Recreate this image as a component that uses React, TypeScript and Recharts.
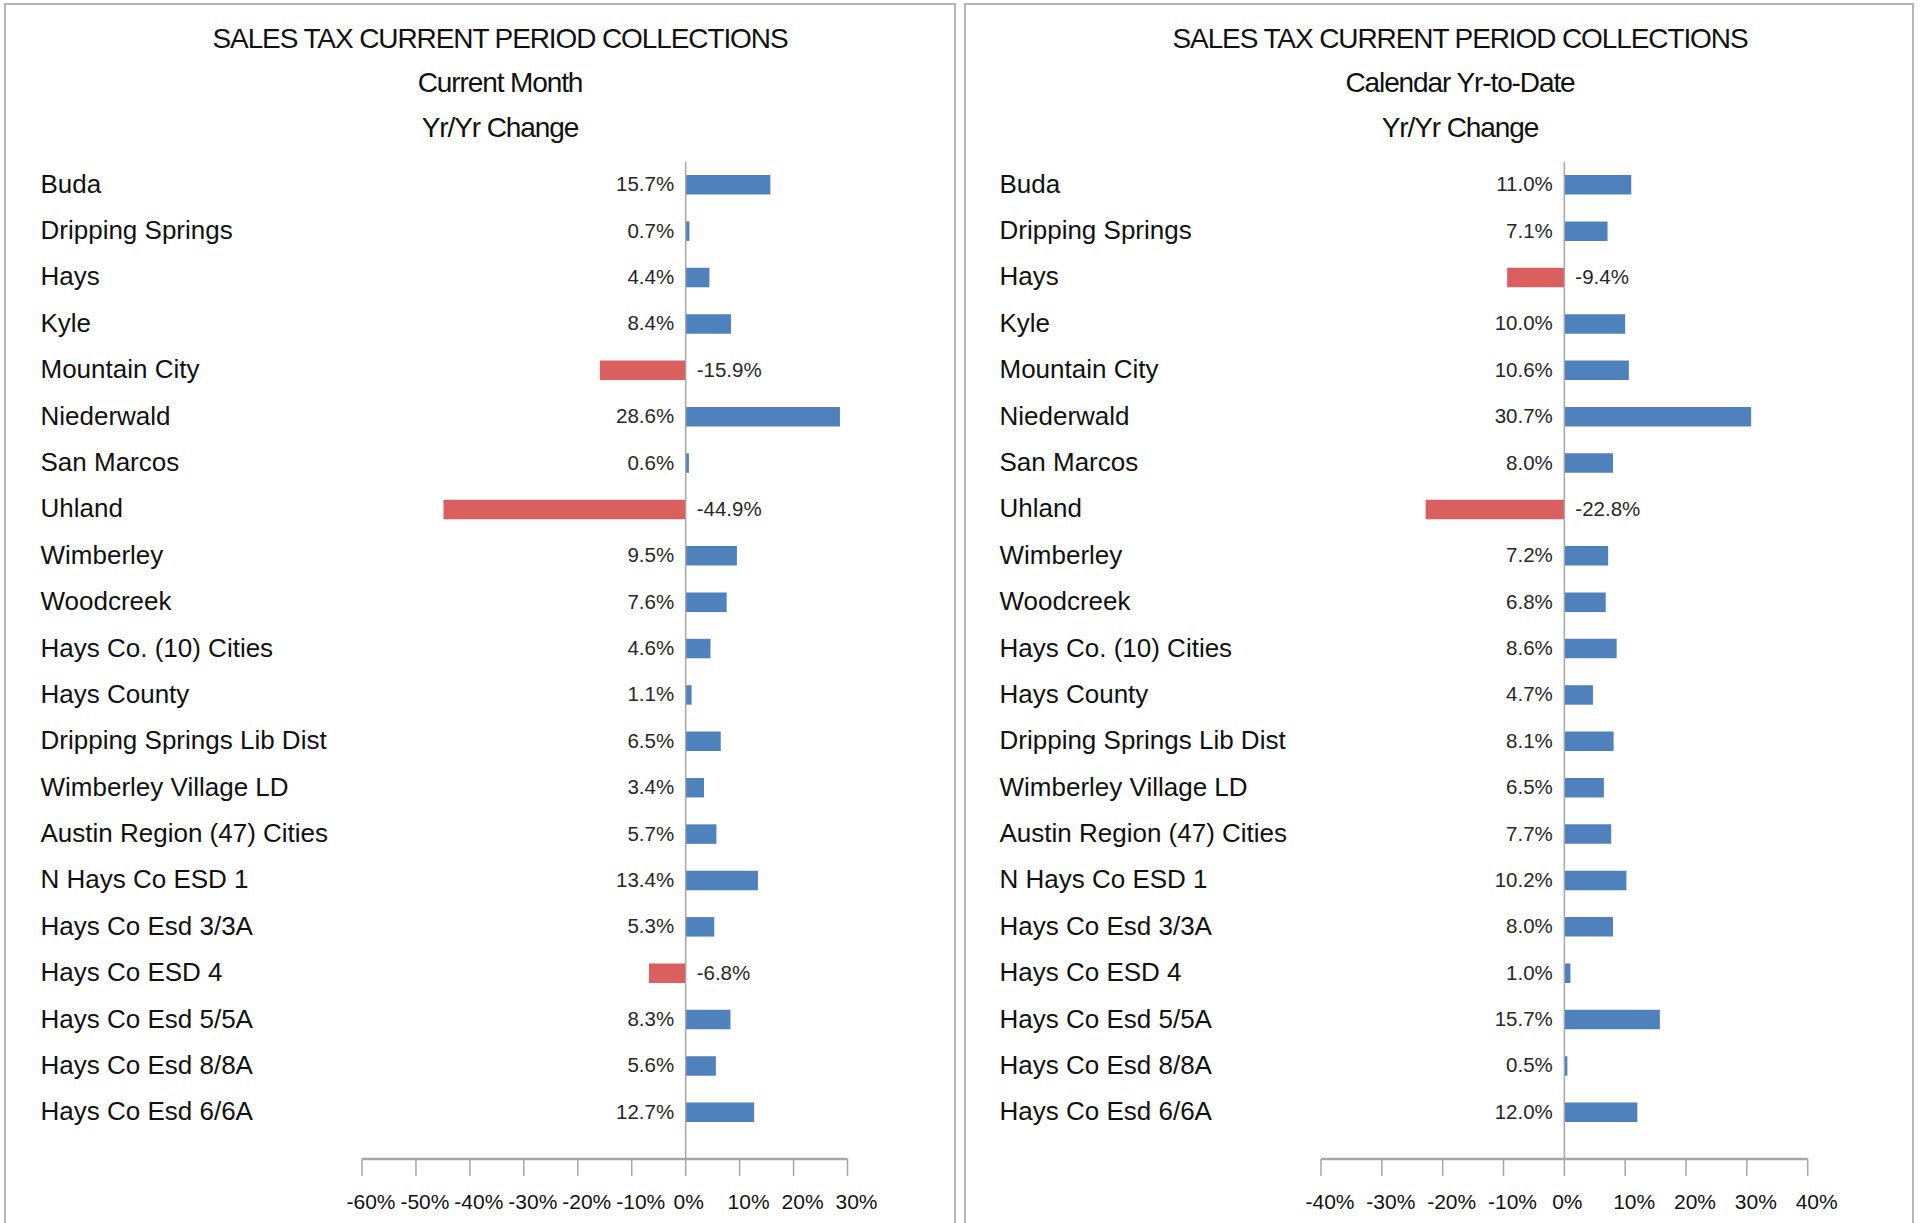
import React from 'react';
import { BarChart, Bar, XAxis, YAxis, Cell, LabelList, ReferenceLine } from 'recharts';

const categories = [
  'Buda',
  'Dripping Springs',
  'Hays',
  'Kyle',
  'Mountain City',
  'Niederwald',
  'San Marcos',
  'Uhland',
  'Wimberley',
  'Woodcreek',
  'Hays Co. (10) Cities',
  'Hays County',
  'Dripping Springs Lib Dist',
  'Wimberley Village LD',
  'Austin Region (47) Cities',
  'N Hays Co ESD 1',
  'Hays Co Esd 3/3A',
  'Hays Co ESD 4',
  'Hays Co Esd 5/5A',
  'Hays Co Esd 8/8A',
  'Hays Co Esd 6/6A',
];

const currentMonthChange = [15.7, 0.7, 4.4, 8.4, -15.9, 28.6, 0.6, -44.9, 9.5, 7.6, 4.6, 1.1, 6.5, 3.4, 5.7, 13.4, 5.3, -6.8, 8.3, 5.6, 12.7];
const yearToDateChange = [11.0, 7.1, -9.4, 10.0, 10.6, 30.7, 8.0, -22.8, 7.2, 6.8, 8.6, 4.7, 8.1, 6.5, 7.7, 10.2, 8.0, 1.0, 15.7, 0.5, 12.0];

const leftTicks = [-60, -50, -40, -30, -20, -10, 0, 10, 20, 30];
const rightTicks = [-40, -30, -20, -10, 0, 10, 20, 30, 40];

const titleLine = 'SALES TAX CURRENT PERIOD COLLECTIONS';
const leftSubtitle = 'Current Month';
const rightSubtitle = 'Calendar Yr-to-Date';
const changeLine = 'Yr/Yr Change';

const FONT = '"Liberation Sans", Arial, Helvetica, sans-serif';
const BLUE = '#4F81BD';
const RED = '#D9605F';
const GRAY = '#A6A6A6';

function makeRows(values: number[]) {
  return categories.map((name, i) => ({ name, value: values[i] }));
}

function ValueLabel(props: any) {
  const vb = props.viewBox || {};
  const x = Number(props.x ?? vb.x) || 0;
  const y = Number(props.y ?? vb.y) || 0;
  const w = Number(props.width ?? vb.width) || 0;
  const h = Number(props.height ?? vb.height) || 0;
  const v = Number(props.value);
  const pos = v >= 0;
  const zeroX = pos ? Math.min(x, x + w) : Math.max(x, x + w);
  const cy = y + h / 2;
  return (
    <text
      x={pos ? zeroX - 11.5 : zeroX + 11}
      y={cy + 6.5}
      textAnchor={pos ? 'end' : 'start'}
      fontSize={20.5}
      fill="#262626"
      fontFamily={FONT}
    >
      {v.toFixed(1) + '%'}
    </text>
  );
}

function makeCategoryTick(labelX: number) {
  return (p: any) => (
    <text x={labelX} y={Number(p.y) + 7.5} fontSize={26} fill="#111111" fontFamily={FONT} textAnchor="start">
      {p.payload?.value}
    </text>
  );
}

function ValueTick(p: any) {
  const v = Number(p.payload?.value);
  const dx = v === 0 ? 3 : 9;
  return (
    <text x={Number(p.x) + dx} y={Number(p.y) + 33} textAnchor="middle" fontSize={21} fill="#111111" fontFamily={FONT}>
      {v + '%'}
    </text>
  );
}

type PanelProps = {
  values: number[];
  ticks: number[];
  left: number;
  width: number;
  yAxisWidth: number;
  marginRight: number;
  labelX: number;
};

function ChangeChart({ values, ticks, left, width, yAxisWidth, marginRight, labelX }: PanelProps) {
  const rows = makeRows(values);
  return (
    <div style={{ position: 'absolute', left, top: 0, width, height: 1223 }}>
      <BarChart
        width={width}
        height={1223}
        data={rows}
        layout="vertical"
        margin={{ top: 162, right: marginRight, bottom: 14, left: 0 }}
      >
        <XAxis
          type="number"
          domain={[ticks[0], ticks[ticks.length - 1]]}
          ticks={ticks}
          interval={0}
          allowDataOverflow
          height={50}
          axisLine={{ stroke: GRAY, strokeWidth: 2.5 }}
          tickLine={{ stroke: GRAY, strokeWidth: 1.5 }}
          tickSize={17}
          tickMargin={0}
          tick={ValueTick}
        />
        <YAxis
          type="category"
          dataKey="name"
          width={yAxisWidth}
          axisLine={false}
          tickLine={false}
          interval={0}
          padding={{ top: 0, bottom: 23 }}
          tick={makeCategoryTick(labelX)}
        />
        <ReferenceLine x={0} stroke={GRAY} strokeWidth={1.5} />
        <Bar dataKey="value" barSize={19.5} isAnimationActive={false}>
          {rows.map((r, i) => (
            <Cell key={i} fill={r.value >= 0 ? BLUE : RED} />
          ))}
          <LabelList dataKey="value" content={ValueLabel} />
        </Bar>
      </BarChart>
    </div>
  );
}

function Titles() {
  const t = (cx: number, y: number, s: string) => (
    <text x={cx} y={y} textAnchor="middle" fontSize={28} letterSpacing={-1.1} fill="#111111" fontFamily={FONT}>
      {s}
    </text>
  );
  return (
    <svg width={1923} height={1223} style={{ position: 'absolute', left: 0, top: 0, pointerEvents: 'none' }}>
      {t(500, 48, titleLine)}
      {t(500, 92, leftSubtitle)}
      {t(500, 137, changeLine)}
      {t(1460, 48, titleLine)}
      {t(1460, 92, rightSubtitle)}
      {t(1460, 137, changeLine)}
    </svg>
  );
}

export default function App() {
  return (
    <div style={{ position: 'absolute', left: 0, top: 0, width: 1923, height: 1223, overflow: 'hidden', background: '#ffffff', fontFamily: FONT }}>
      <div style={{ position: 'absolute', left: 4, top: 3, width: 952, height: 1260, border: '2px solid #B5B5B5', boxSizing: 'border-box' }} />
      <div style={{ position: 'absolute', left: 964, top: 3, width: 950, height: 1260, border: '2px solid #B5B5B5', boxSizing: 'border-box' }} />
      <ChangeChart values={currentMonthChange} ticks={leftTicks} left={0} width={960} yAxisWidth={362} marginRight={112.5} labelX={40.5} />
      <ChangeChart values={yearToDateChange} ticks={rightTicks} left={960} width={963} yAxisWidth={361} marginRight={115.3} labelX={39.5} />
      <Titles />
    </div>
  );
}
